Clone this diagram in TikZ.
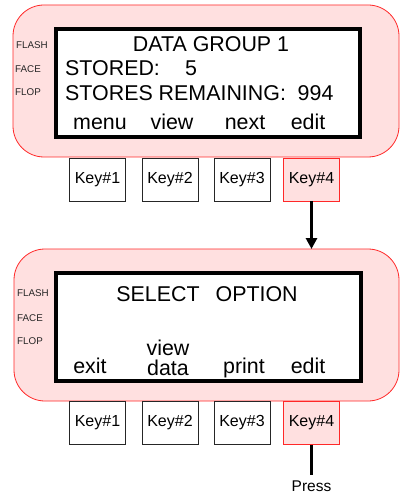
\documentclass[tikz,border=0pt]{standalone}
\usepackage{fontspec}
\setmainfont{Liberation Sans}
\usetikzlibrary{arrows.meta}
\definecolor{pnk}{RGB}{255,224,224}
\definecolor{pred}{RGB}{255,40,40}
\tikzset{
  panel/.style={draw=pred, line width=0.8pt, fill=pnk, rounded corners=31pt},
  screen/.style={draw=black, line width=3.2pt, fill=white},
  keybox/.style={draw=black!85, line width=0.8pt, fill=white, minimum width=56pt, minimum height=43pt, inner sep=0pt, font=\fontsize{16}{18}\selectfont},
  keyred/.style={keybox, draw=pred, fill=pnk},
  lbl/.style={font=\fontsize{9.8}{11}\selectfont, inner sep=0pt, anchor=base west, text=black!85},
  scr/.style={font=\fontsize{21.4}{24}\selectfont, inner sep=0pt},
  conn/.style={line width=3.8pt},
}
\begin{document}
\begin{tikzpicture}[x=1pt,y=-1pt]
\useasboundingbox (0,0) rectangle (401,494);
% ---------- top panel ----------
\draw[panel] (13,5) rectangle (399,157);
\draw[screen] (56,29) rectangle (360,137);
\node[lbl] (fl1) at (16,48.5) {FLASH};
\node[lbl] (fa1) at (15,72.5) {FACE};
\node[lbl] (fo1) at (15,96) {FLOP};
\node[scr, anchor=base] (t1) at (211,52) {DATA GROUP 1};
\node[scr, anchor=base west] (t2) at (65,76) {STORED:};
\node[scr, anchor=base west] (t3) at (185,76) {5};
\node[scr, anchor=base west] (t4) at (65,101) {STORES REMAINING:\hspace{0.55em}994};
\node[scr, anchor=base] (m1) at (100,130) {menu};
\node[scr, anchor=base] (m2) at (172,130) {view};
\node[scr, anchor=base] (m3) at (245,130) {next};
\node[scr, anchor=base] (m4) at (308,130) {edit};
\node[keybox] (ka1) at (97.5,179.5) {Key\#1};
\node[keybox] (ka2) at (170,179.5) {Key\#2};
\node[keybox] (ka3) at (242,179.5) {Key\#3};
\node[keyred] (ka4) at (311.5,179.5) {Key\#4};
% ---------- bottom panel ----------
\draw[panel] (14,249) rectangle (399,401);
\coordinate (p2top) at (311.5,249);
\draw[screen] (56,273) rectangle (361,381);
\node[lbl] (fl2) at (17,296.5) {FLASH};
\node[lbl] (fa2) at (17,321) {FACE};
\node[lbl] (fo2) at (17,344) {FLOP};
\node[scr, anchor=base] (s1) at (207,301) {SELECT\hspace{0.75em}OPTION};
\node[scr, anchor=base] (e1) at (90,373) {exit};
\node[scr, anchor=base] (e2a) at (168,355) {view};
\node[scr, anchor=base] (e2b) at (168,375) {data};
\node[scr, anchor=base] (e3) at (244,373) {print};
\node[scr, anchor=base] (e4) at (308,373) {edit};
\node[keybox] (kb1) at (97.5,423) {Key\#1};
\node[keybox] (kb2) at (170,423) {Key\#2};
\node[keybox] (kb3) at (242,423) {Key\#3};
\node[keyred] (kb4) at (311.5,423) {Key\#4};
% ---------- connectors ----------
\draw[conn, -{Triangle[width=11pt,length=11pt]}] (ka4.south) -- (p2top);
\node[font=\fontsize{15.5}{18}\selectfont, inner sep=0pt, anchor=base] (press) at (311.5,491) {Press};
\draw[conn] (kb4.south) -- (311.5,475);
\end{tikzpicture}
\end{document}
